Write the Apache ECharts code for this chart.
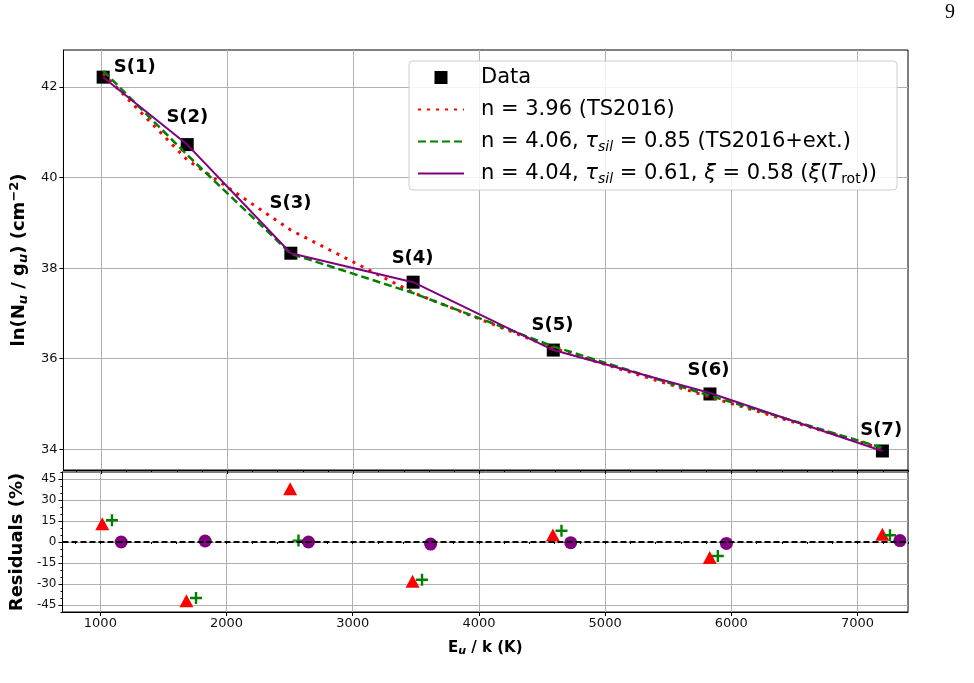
<!DOCTYPE html>
<html>
<head>
<meta charset="utf-8">
<script src="https://cdn.jsdelivr.net/npm/echarts@6/dist/echarts.min.js"></script>
<style>
html,body{margin:0;padding:0;background:#fff;}
#chart{width:974px;height:683px;}
</style>
</head>
<body>
<div id="chart"></div>
<script>
// ---- data ----
const energies = [1015, 1682, 2504, 3474, 4586, 5829, 7197];
const dataLnNg = [42.22, 40.73, 38.33, 37.69, 36.19, 35.22, 33.96];
const modelTS2016 = [42.30, 40.39, 38.84, 37.46, 36.23, 35.15, 34.01];
const modelExt = [42.36, 40.50, 38.32, 37.45, 36.27, 35.18, 34.03];
const modelXi = [42.22, 40.73, 38.33, 37.69, 36.19, 35.24, 33.96];
const levelLabels = ['S(1)', 'S(2)', 'S(3)', 'S(4)', 'S(5)', 'S(6)', 'S(7)'];
const labelX = [1265, 1683, 2502, 3470, 4580, 5817, 7187];
const labelY = [42.44, 41.34, 39.44, 38.22, 36.74, 35.75, 34.42];

const resTS2016X = [1015, 1682, 2504, 3474, 4586, 5829, 7197];
const resTS2016 = [13, -42, 38, -28, 5, -11, 5.5];
const resExtX = [1092, 1758, 2570, 3549, 4654, 5893, 7257];
const resExt = [15.5, -40, 1, -27, 8, -10, 4.8];
const resXiX = [1165, 1830, 2649, 3617, 4727, 5961, 7336];
const resXi = [0, 0.7, 0, -1.5, -0.5, -1, 1];

const xMajorTicks = [1000, 2000, 3000, 4000, 5000, 6000, 7000];
const xMinorTicks = [800, 1000, 1200, 1400, 1600, 1800, 2000, 2200, 2400, 2600, 2800, 3000, 3200, 3400, 3600, 3800, 4000, 4200, 4400, 4600, 4800, 5000, 5200, 5400, 5600, 5800, 6000, 6200, 6400, 6600, 6800, 7000, 7200, 7400];
const yTopTicks = [34, 36, 38, 40, 42];
const yResTicks = [-45, -30, -15, 0, 15, 30, 45];
const yResMinorTicks = [-50, -45, -40, -35, -30, -25, -20, -15, -10, -5, 0, 5, 10, 15, 20, 25, 30, 35, 40, 45, 50];

const xRange = [700, 7400];
const yTopRange = [33.54, 42.82];
const yResRange = [-50, 50];

// ---- build ----
const zip = (a, b) => a.map((v, i) => [v, b[i]]);
const FONT = 'DejaVu Sans';
const gridColor = '#b0b0b0';

const legendText = {
  'Data': 'Data',
  'm1': 'n = 3.96 (TS2016)',
  'm2': 'n = 4.06, {it|τ}{sub|sil} = 0.85 (TS2016+ext.)',
  'm3': 'n = 4.04, {it|τ}{sub|sil} = 0.61, {it|ξ} = 0.58 ({it|ξ}({it|T}{subr|rot}))'
};

function majorX(gridIndex, showLabel) {
  return {
    type: 'value', gridIndex: gridIndex, position: 'bottom', min: xRange[0], max: xRange[1],
    axisLine: {show: true, onZero: false, lineStyle: {color: '#000', width: 1}},
    axisTick: {show: true, length: 4, customValues: xMajorTicks, lineStyle: {color: '#000'}},
    axisLabel: {show: showLabel, customValues: xMajorTicks, formatter: v => String(v), fontSize: 13, color: '#111', fontFamily: FONT, margin: 5},
    splitLine: {show: true, lineStyle: {color: gridColor, width: 1}}
  };
}
function minorX(gridIndex) {
  return {
    type: 'value', gridIndex: gridIndex, position: 'bottom', min: xRange[0], max: xRange[1],
    axisLine: {show: false},
    axisTick: {show: true, length: 2, customValues: xMinorTicks, lineStyle: {color: '#000'}},
    axisLabel: {show: false},
    splitLine: {show: false}
  };
}

const xBottom = majorX(1, true);
xBottom.name = '{b|E}{sub|u}{b| / k (K)}';
xBottom.nameLocation = 'middle';
xBottom.nameGap = 27;
xBottom.nameTextStyle = {
  fontFamily: FONT,
  rich: {
    b: {fontSize: 15, fontWeight: 'bold', color: '#000', fontFamily: FONT, lineHeight: 18},
    sub: {fontSize: 11, fontWeight: 'bold', fontStyle: 'italic', color: '#000', fontFamily: FONT, verticalAlign: 'bottom', lineHeight: 10}
  }
};

const hiddenSymbol = {color: 'rgba(0,0,0,0)', borderWidth: 0, opacity: 0};

const option = {
  animation: false,
  backgroundColor: '#ffffff',
  grid: [
    {left: 59, top: 50, width: 849, height: 420, show: true, borderColor: '#000', borderWidth: 1, backgroundColor: 'transparent'},
    {left: 59, top: 472, width: 849, height: 140, show: true, borderColor: '#000', borderWidth: 1, backgroundColor: 'transparent'}
  ],
  xAxis: [majorX(0, false), minorX(0), xBottom, minorX(1)],
  yAxis: [
    {
      type: 'value', gridIndex: 0, position: 'left', min: yTopRange[0], max: yTopRange[1],
      axisLine: {show: true, onZero: false, lineStyle: {color: '#000'}},
      axisTick: {show: true, length: 4, customValues: yTopTicks, lineStyle: {color: '#000'}},
      axisLabel: {show: true, customValues: yTopTicks, fontSize: 13, color: '#111', fontFamily: FONT, margin: 6},
      splitLine: {show: true, lineStyle: {color: gridColor, width: 1}},
      name: '{b|ln(N}{sub|u}{b| / g}{sub|u}{b|) (cm}{sup|−2}{b|)}',
      nameLocation: 'middle', nameRotate: 90, nameGap: 30,
      nameTextStyle: {
        fontFamily: FONT,
        rich: {
          b: {fontSize: 18, fontWeight: 'bold', color: '#000', fontFamily: FONT, lineHeight: 22},
          sub: {fontSize: 13, fontWeight: 'bold', fontStyle: 'italic', color: '#000', fontFamily: FONT, verticalAlign: 'bottom', lineHeight: 12},
          sup: {fontSize: 13, fontWeight: 'bold', color: '#000', fontFamily: FONT, verticalAlign: 'top', lineHeight: 12}
        }
      }
    },
    {
      type: 'value', gridIndex: 1, position: 'left', min: yResRange[0], max: yResRange[1],
      axisLine: {show: true, onZero: false, lineStyle: {color: '#000'}},
      axisTick: {show: true, length: 4, customValues: yResTicks, lineStyle: {color: '#000'}},
      axisLabel: {show: true, customValues: yResTicks, fontSize: 12, color: '#111', fontFamily: FONT, margin: 6},
      splitLine: {show: true, lineStyle: {color: gridColor, width: 1}},
      name: 'Residuals (%)',
      nameLocation: 'middle', nameRotate: 90, nameGap: 30,
      nameTextStyle: {fontSize: 18, fontWeight: 'bold', color: '#000', fontFamily: FONT}
    },
    {
      type: 'value', gridIndex: 1, position: 'left', min: yResRange[0], max: yResRange[1],
      axisLine: {show: false},
      axisTick: {show: true, length: 2, customValues: yResMinorTicks, lineStyle: {color: '#000'}},
      axisLabel: {show: false},
      splitLine: {show: false}
    }
  ],
  legend: {
    orient: 'vertical', left: 409, top: 61,
    data: [
      {name: 'Data', icon: 'path://M0,0h10v10h-10z'},
      {name: 'm1', itemStyle: hiddenSymbol},
      {name: 'm2', itemStyle: hiddenSymbol},
      {name: 'm3', itemStyle: hiddenSymbol}
    ],
    itemWidth: 46, itemHeight: 13, itemGap: 7,
    symbolKeepAspect: true,
    padding: [4, 20, 4, 8],
    backgroundColor: 'rgba(255,255,255,0.85)',
    borderColor: '#cccccc', borderWidth: 1, borderRadius: 4,
    selectedMode: false,
    formatter: name => legendText[name],
    textStyle: {
      fontSize: 21, color: '#000', fontFamily: FONT, lineHeight: 25, padding: [0, 0, 0, 12],
      rich: {
        it: {fontSize: 21, fontStyle: 'italic', color: '#000', fontFamily: FONT, lineHeight: 25},
        sub: {fontSize: 14, fontStyle: 'italic', color: '#000', fontFamily: FONT, verticalAlign: 'bottom', lineHeight: 12},
        subr: {fontSize: 14, color: '#000', fontFamily: FONT, verticalAlign: 'bottom', lineHeight: 12}
      }
    }
  },
  graphic: [
    {type: 'text', left: 945, top: 3, style: {text: '9', font: '20px "Liberation Serif"', fill: '#000'}}
  ],
  series: [
    {
      name: 'Data', type: 'scatter', xAxisIndex: 0, yAxisIndex: 0,
      data: zip(energies, dataLnNg), symbol: 'rect', symbolSize: 13,
      itemStyle: {color: '#000', opacity: 1}, z: 2
    },
    {
      name: 'm1', type: 'line', xAxisIndex: 0, yAxisIndex: 0,
      data: zip(energies, modelTS2016), symbol: 'none',
      lineStyle: {color: '#ff0000', width: 3, type: [3, 6], cap: 'butt'},
      itemStyle: {color: '#ff0000'}, z: 3
    },
    {
      name: 'm2', type: 'line', xAxisIndex: 0, yAxisIndex: 0,
      data: zip(energies, modelExt), symbol: 'none',
      lineStyle: {color: '#008000', width: 2.5, type: [8, 4], cap: 'butt'},
      itemStyle: {color: '#008000'}, z: 4
    },
    {
      name: 'm3', type: 'line', xAxisIndex: 0, yAxisIndex: 0,
      data: zip(energies, modelXi), symbol: 'none',
      lineStyle: {color: '#800080', width: 2},
      itemStyle: {color: '#800080'}, z: 5
    },
    {
      name: 'labels', type: 'scatter', xAxisIndex: 0, yAxisIndex: 0,
      data: labelX.map((x, i) => ({value: [x, labelY[i]], name: levelLabels[i]})),
      symbolSize: 1, itemStyle: {color: 'rgba(0,0,0,0)', opacity: 1}, silent: true, z: 6,
      label: {show: true, position: 'inside', formatter: p => p.name, fontSize: 18, fontWeight: 'bold', color: '#000', fontFamily: FONT}
    },
    {
      name: 'resTS2016', type: 'scatter', xAxisIndex: 2, yAxisIndex: 1,
      data: zip(resTS2016X, resTS2016), symbol: 'triangle', symbolSize: [14, 13],
      itemStyle: {color: '#ff0000', opacity: 1}, z: 4
    },
    {
      name: 'resExt', type: 'scatter', xAxisIndex: 2, yAxisIndex: 1,
      data: zip(resExtX, resExt), symbol: 'path://M4,0h2v4h4v2h-4v4h-2v-4h-4v-2h4z', symbolSize: 12,
      itemStyle: {color: '#008000', opacity: 1}, z: 4
    },
    {
      name: 'resXi', type: 'scatter', xAxisIndex: 2, yAxisIndex: 1,
      data: zip(resXiX, resXi), symbol: 'circle', symbolSize: 13,
      itemStyle: {color: '#800080', opacity: 1}, z: 4,
      markLine: {
        silent: true, symbol: 'none', label: {show: false},
        lineStyle: {color: '#000', width: 2, type: [6, 3]},
        data: [{yAxis: 0}]
      }
    }
  ]
};

const chart = echarts.init(document.getElementById('chart'), null, {renderer: 'canvas'});
chart.setOption(option);
</script>
</body>
</html>
